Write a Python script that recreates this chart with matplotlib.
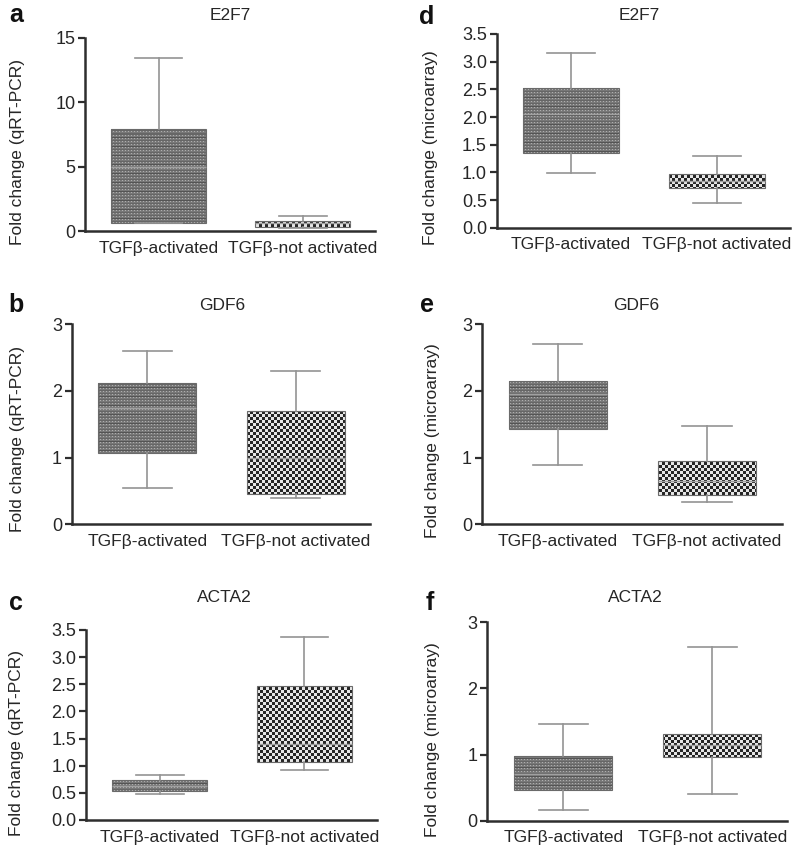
import matplotlib
matplotlib.use("Agg")
import matplotlib.pyplot as plt
import numpy as np

plt.rcParams['font.family'] = ['Liberation Sans', 'DejaVu Sans']

groups = ["TGF\u03b2-activated", "TGF\u03b2-not activated"]
genes = ["E2F7", "GDF6", "ACTA2"]

# box stats per group: whislo, q1, median, q3, whishi
e2f7_qpcr = [[0.65, 0.65, 5.0, 7.9, 13.4], [0.25, 0.33, 0.6, 0.8, 1.2]]
gdf6_qpcr = [[0.55, 1.075, 1.75, 2.125, 2.6], [0.40, 0.45, 1.0, 1.70, 2.30]]
acta2_qpcr = [[0.47, 0.54, 0.62, 0.73, 0.83], [0.93, 1.06, 1.40, 2.47, 3.38]]
e2f7_array = [[0.98, 1.345, 2.05, 2.52, 3.15], [0.44, 0.71, 0.85, 0.97, 1.30]]
gdf6_array = [[0.89, 1.425, 1.95, 2.15, 2.70], [0.33, 0.44, 0.65, 0.95, 1.475]]
acta2_array = [[0.16, 0.46, 0.70, 0.98, 1.46], [0.40, 0.96, 1.15, 1.31, 2.62]]

y_max = [15, 3, 3.5, 3.5, 3, 3]
y_step = [5, 1, 0.5, 0.5, 1, 1]
y_fmt = ["%d", "%d", "%.1f", "%.1f", "%d", "%d"]

W, H = 800, 856
fig = plt.figure(figsize=(W / 100, H / 100), dpi=100)

# panel layout in pixels: left, top, right, bottom
rects = [(85, 37.7, 375, 231), (71.7, 324.3, 370, 524.3), (86, 630, 376.7, 820),
         (496.7, 34, 790, 227.7), (481.7, 324.3, 781.7, 524.3), (487.3, 622.3, 786.7, 820.7)]
title_xy = [(230, 15), (222, 305), (224, 598), (639, 15), (636, 305), (635, 598)]
letter_xy = [(16, 15), (16, 305), (16, 603), (427, 17), (427, 305), (430, 603)]
ylab_xy = [(18, 152), (18, 439), (17, 743.5), (430, 147.5), (432, 441), (432, 739.5)]
letters = ["a", "b", "c", "d", "e", "f"]
ylabels = ["Fold change (qRT-PCR)"] * 3 + ["Fold change (microarray)"] * 3
panel_data = [e2f7_qpcr, gdf6_qpcr, acta2_qpcr, e2f7_array, gdf6_array, acta2_array]
panel_gene = genes + genes

TXT = "#262626"
SPINE = "#2e2e2e"


def fine_texture(h, w):
    i, j = np.mgrid[0:h, 0:w]
    a = np.full((h, w), 0.47)
    a[(i % 3 == 1) & (j % 3 == 1)] = 0.68
    a[i % 3 == 0] = 0.40
    a[(i % 9 == 0)] = 0.33
    return a


def checker_texture(h, w):
    i, j = np.mgrid[0:h, 0:w]
    c = ((i // 3 + j // 3) % 2).astype(float)
    return 0.15 + 0.75 * c


for k in range(6):
    l, t, r, b = rects[k]
    ax = fig.add_axes([l / W, 1 - b / H, (r - l) / W, (b - t) / H])
    stats = []
    for g, s in zip(groups, panel_data[k]):
        stats.append(dict(whislo=s[0], q1=s[1], med=s[2], q3=s[3], whishi=s[4], label=g))
    bp = ax.bxp(stats, positions=[1, 2], widths=0.66, capwidths=0.33, patch_artist=True,
                showfliers=False,
                boxprops=dict(facecolor="none", edgecolor="#6a6a6a", linewidth=0.8),
                whiskerprops=dict(color="#939393", linewidth=1.2),
                capprops=dict(color="#939393", linewidth=1.2),
                medianprops=dict(color="#a0a0a0", linewidth=1.0))
    ax.set_xlim(0.49, 2.5)
    ax.set_ylim(0, y_max[k])
    # textures clipped to the box patches
    hp, wp = int(round(b - t)), int(round(r - l))
    for n, patch in enumerate(bp["boxes"]):
        tex = fine_texture(hp, wp) if n == 0 else checker_texture(hp, wp)
        im = ax.imshow(tex, cmap="gray", vmin=0, vmax=1, origin="upper",
                       extent=(0.49, 2.5, 0, y_max[k]), aspect="auto",
                       interpolation="nearest", zorder=1.5)
        im.set_clip_path(patch)
    ax.set_xlim(0.49, 2.5)
    ax.set_ylim(0, y_max[k])

    ax.set_yticks(np.arange(0, y_max[k] + 1e-9, y_step[k]))
    ax.set_yticklabels([y_fmt[k] % v for v in ax.get_yticks()])
    ax.set_xticks([1, 2])
    ax.set_xticklabels(groups)
    for s in ["top", "right"]:
        ax.spines[s].set_visible(False)
    for s in ["left", "bottom"]:
        ax.spines[s].set_linewidth(1.8)
        ax.spines[s].set_color(SPINE)
    ax.tick_params(axis="y", length=5, width=1.6, color=SPINE, labelsize=13,
                   labelcolor=TXT, pad=2)
    ax.tick_params(axis="x", length=0, labelsize=12.5, labelcolor=TXT, pad=7)
    ax.patch.set_alpha(0)

    tx, ty = title_xy[k]
    fig.text(tx / W, 1 - ty / H, panel_gene[k], ha="center", va="center",
             fontsize=12.5, color=TXT)
    lx, ly = letter_xy[k]
    fig.text(lx / W, 1 - ly / H, letters[k], ha="center", va="center",
             fontsize=18, fontweight="bold", color="#111111")
    yx, yy = ylab_xy[k]
    fig.text(yx / W, 1 - yy / H, ylabels[k], ha="center", va="center",
             rotation=90, fontsize=12.5, color=TXT)

fig.savefig("out.png", dpi=100, facecolor="white")
